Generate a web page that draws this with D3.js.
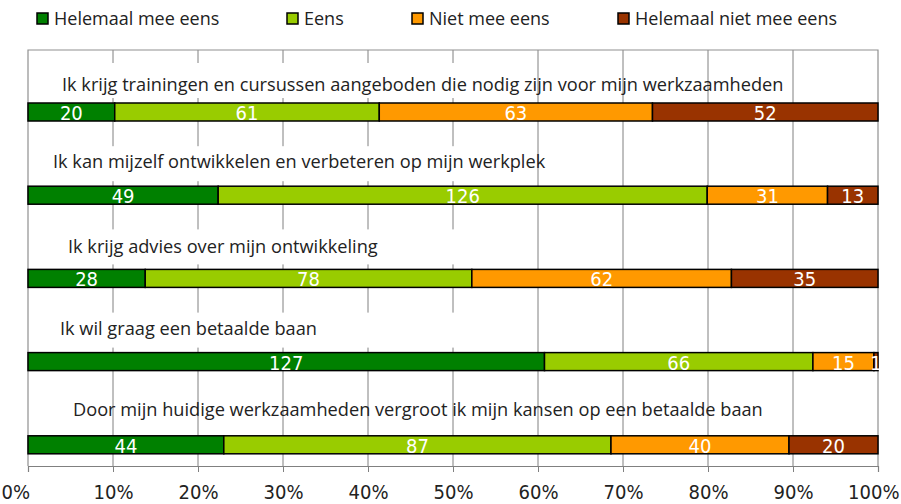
<!DOCTYPE html>
<html>
<head>
<meta charset="utf-8">
<script src="https://cdn.jsdelivr.net/npm/d3@7"></script>
<style>
    body { margin: 0; background: #fff; }
    svg { display: block; }
</style>
</head>
<body>
<script>

// Data

const statements = [
    'Ik krijg trainingen en cursussen aangeboden die nodig zijn voor mijn werkzaamheden',
    'Ik kan mijzelf ontwikkelen en verbeteren op mijn werkplek',
    'Ik krijg advies over mijn ontwikkeling',
    'Ik wil graag een betaalde baan',
    'Door mijn huidige werkzaamheden vergroot ik mijn kansen op een betaalde baan',
]

const answers = ['Helemaal mee eens', 'Eens', 'Niet mee eens', 'Helemaal niet mee eens']

const helemaalMeeEens = [20, 49, 28, 127, 44]
const eens = [61, 126, 78, 66, 87]
const nietMeeEens = [63, 31, 62, 15, 40]
const helemaalNietMeeEens = [52, 13, 35, 1, 20]

const tickValues = [0, .1, .2, .3, .4, .5, .6, .7, .8, .9, 1]

const colors = ['#008000', '#99cc00', '#ff9900', '#993300']

// Layout

const W = 901, H = 504
const m = { left: 28, right: 23, top: 50, bottom: 38 }

// small per-row nudges of the statement text (the original boxes were placed by hand)
const labelIndent = [34, 25, 40, 32, 45]
const labelDy = [41, 35, 37, 35, 33]

const svg = d3.select('body').append('svg')
    .attr('width', W)
    .attr('height', H)

const x = d3.scaleLinear()
    .domain([0, 1])
    .range([m.left, W - m.right])

const y = d3.scaleBand()
    .domain(d3.range(statements.length))
    .range([m.top, H - m.bottom])

const barOffset = 53
const barH = 18

// stack as shares of each row's total
const rows = statements.map((s, i) => {
    const vals = [helemaalMeeEens[i], eens[i], nietMeeEens[i], helemaalNietMeeEens[i]]
    const total = d3.sum(vals)
    let acc = 0
    return vals.map((v, k) => {
        const seg = { row: i, key: k, value: v, x0: acc / total, x1: (acc + v) / total }
        acc += v
        return seg
    })
})

// Grid + frame

const grid = svg.append('g')

grid.selectAll('line.grid')
    .data(tickValues.slice(1, -1))
    .join('line')
    .attr('x1', d => x(d))
    .attr('x2', d => x(d))
    .attr('y1', m.top)
    .attr('y2', H - m.bottom)
    .attr('stroke', '#808080')
    .attr('stroke-width', 1)

grid.append('path')
    .attr('d', `M${x(0)},${H - m.bottom}V${m.top}H${x(1)}V${H - m.bottom}`)
    .attr('fill', 'none')
    .attr('stroke', '#909090')
    .attr('stroke-width', 1.2)

// white text boxes that hide part of the grid (first four rows)
svg.append('g')
    .selectAll('rect')
    .data(d3.range(4))
    .join('rect')
    .attr('x', x(0) + 1)
    .attr('y', d => y(d) + 13)
    .attr('width', 462)
    .attr('height', 35)
    .attr('fill', '#fff')

// Statement labels

svg.append('g')
    .selectAll('text')
    .data(statements)
    .join('text')
    .attr('x', (d, i) => x(0) + labelIndent[i])
    .attr('y', (d, i) => y(i) + labelDy[i])
    .attr('font-family', '"Open Sans", "Noto Sans", sans-serif')
    .attr('font-size', 18.2)
    .attr('fill', '#222')
    .text(d => d)

// Bars

const segs = rows.flat()

svg.append('g')
    .selectAll('rect')
    .data(segs)
    .join('rect')
    .attr('x', d => x(d.x0))
    .attr('y', d => y(d.row) + barOffset)
    .attr('width', d => x(d.x1) - x(d.x0))
    .attr('height', barH)
    .attr('fill', d => colors[d.key])
    .attr('stroke', '#000')
    .attr('stroke-width', 1.5)

svg.append('g')
    .selectAll('text')
    .data(segs)
    .join('text')
    .attr('x', d => (x(d.x0) + x(d.x1)) / 2)
    .attr('y', d => y(d.row) + barOffset + barH / 2 + 8)
    .attr('text-anchor', 'middle')
    .attr('font-family', '"Liberation Sans Narrow", "DejaVu Sans Condensed", sans-serif')
    .attr('font-stretch', 'condensed')
    .attr('font-size', 20)
    .attr('fill', '#fff')
    .text(d => d.value)

// Axis

const axis = svg.append('g')
    .attr('transform', `translate(0,${H - m.bottom})`)
    .call(d3.axisBottom(x)
        .tickValues(tickValues)
        .tickFormat(d3.format('.0%'))
        .tickSize(6)
        .tickPadding(13))

axis.select('.domain').attr('stroke', '#808080').attr('stroke-width', 1.2)
axis.selectAll('.tick line').attr('stroke', '#808080')
axis.selectAll('.tick text')
    .attr('font-family', '"Liberation Sans Narrow", "DejaVu Sans Condensed", sans-serif')
    .attr('font-stretch', 'condensed')
    .attr('font-size', 20)
    .attr('fill', '#222')

// keep the end labels inside the picture
axis.selectAll('.tick text')
    .filter(d => d === 0)
    .attr('text-anchor', 'start')
    .attr('dx', -27)
axis.selectAll('.tick text')
    .filter(d => d === 1)
    .attr('text-anchor', 'end')
    .attr('dx', 21)

// Legend

const legendX = [37, 287, 412, 618]

const legend = svg.append('g')
    .selectAll('g')
    .data(answers)
    .join('g')
    .attr('transform', (d, i) => `translate(${legendX[i]},13)`)

legend.append('rect')
    .attr('width', 11)
    .attr('height', 11)
    .attr('fill', (d, i) => colors[i])
    .attr('stroke', '#000')
    .attr('stroke-width', 1.5)

legend.append('text')
    .attr('x', 17)
    .attr('y', 12)
    .attr('font-family', '"Open Sans", "Noto Sans", sans-serif')
    .attr('font-size', 18)
    .attr('fill', '#222')
    .text(d => d)

</script>
</body>
</html>
